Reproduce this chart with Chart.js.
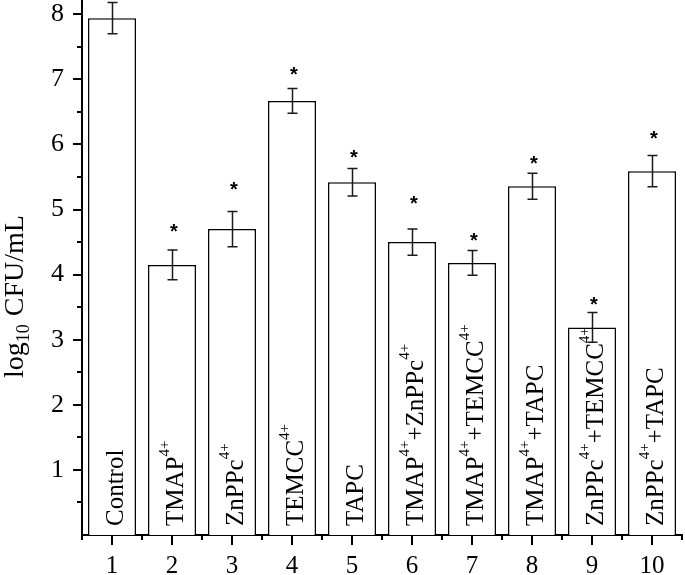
<!DOCTYPE html>
<html>
<head>
<meta charset="utf-8">
<script src="https://cdn.jsdelivr.net/npm/chart.js@4/dist/chart.umd.min.js"></script>
<style>
  html, body { margin: 0; padding: 0; background: #fff; }
  #wrap { width: 685px; height: 575px; }
</style>
</head>
<body>
<div id="wrap"><canvas id="cfu" width="685" height="575"></canvas></div>
<script>
const categories = ['1', '2', '3', '4', '5', '6', '7', '8', '9', '10'];
// {..} marks superscript text
const barLabels = ['Control', 'TMAP{4+}', 'ZnPPc{4+}', 'TEMCC{4+}', 'TAPC',
    'TMAP{4+}+ZnPPc{4+}', 'TMAP{4+}+TEMCC{4+}', 'TMAP{4+}+TAPC',
    'ZnPPc{4+}+TEMCC{4+}', 'ZnPPc{4+}+TAPC'];
const means = [7.94, 4.15, 4.70, 6.67, 5.42, 4.50, 4.18, 5.36, 3.19, 5.59];
const errors = [0.24, 0.23, 0.27, 0.19, 0.21, 0.20, 0.19, 0.20, 0.23, 0.24];
// level of the significance asterisk (null = none)
const starLevels = [null, 4.72, 5.36, 7.13, 5.85, 5.15, 4.58, 5.76, 3.59, 6.14];
const yTicks = [1, 2, 3, 4, 5, 6, 7, 8];
const yMinorTicks = [0.5, 1.5, 2.5, 3.5, 4.5, 5.5, 6.5, 7.5];

const serif = '"Liberation Serif", "Times New Roman", serif';

function parseLabel(str) {
    const parts = [];
    const re = /([^{]+)|\{([^}]*)\}/g;
    let m;
    while ((m = re.exec(str)) !== null) {
        if (m[1]) parts.push({ text: m[1], sup: false });
        else parts.push({ text: m[2], sup: true });
    }
    return parts;
}

const extras = {
    id: 'extras',
    afterDatasetsDraw(chart) {
        const ctx = chart.ctx;
        const xs = chart.scales.x, ys = chart.scales.y;
        const area = chart.chartArea;
        ctx.save();

        // minor ticks
        ctx.strokeStyle = '#000';
        ctx.lineWidth = 2;
        ctx.beginPath();
        for (let i = 0; i <= categories.length; i++) {
            const px = Math.round(xs.getPixelForValue(i - 0.5));
            ctx.moveTo(px, area.bottom);
            ctx.lineTo(px, area.bottom + 5);
        }
        yMinorTicks.forEach(v => {
            const py = Math.round(ys.getPixelForValue(v));
            ctx.moveTo(area.left - 5, py);
            ctx.lineTo(area.left, py);
        });
        ctx.stroke();

        // bar labels, rotated
        barLabels.forEach((lab, i) => {
            const cx = xs.getPixelForValue(i);
            ctx.save();
            ctx.translate(cx + 11, area.bottom - 9);
            ctx.rotate(-Math.PI / 2);
            ctx.fillStyle = '#000';
            ctx.textAlign = 'left';
            ctx.textBaseline = 'alphabetic';
            let x = 0;
            parseLabel(lab).forEach(p => {
                ctx.font = (p.sup ? '15px ' : '25px ') + serif;
                ctx.fillText(p.text, x, p.sup ? -14 : 0);
                x += ctx.measureText(p.text).width;
            });
            ctx.restore();
        });

        // error bars
        ctx.strokeStyle = '#1a1a1a';
        ctx.lineWidth = 1.5;
        means.forEach((m, i) => {
            const cx = Math.round(xs.getPixelForValue(i)) + 0.5;
            const top = ys.getPixelForValue(m + errors[i]);
            const bot = ys.getPixelForValue(m - errors[i]);
            ctx.beginPath();
            ctx.moveTo(cx, top); ctx.lineTo(cx, bot);
            ctx.moveTo(cx - 5, top); ctx.lineTo(cx + 5, top);
            ctx.moveTo(cx - 5, bot); ctx.lineTo(cx + 5, bot);
            ctx.stroke();
        });

        // asterisks
        ctx.fillStyle = '#000';
        ctx.font = 'bold 20px "Liberation Sans", Arial, sans-serif';
        ctx.textAlign = 'center';
        ctx.textBaseline = 'alphabetic';
        const sm = ctx.measureText('*');
        const dy = (sm.actualBoundingBoxAscent - sm.actualBoundingBoxDescent) / 2;
        starLevels.forEach((lv, i) => {
            if (lv === null) return;
            ctx.fillText('*', xs.getPixelForValue(i) + 2, ys.getPixelForValue(lv) + dy);
        });

        // y axis title with subscript
        ctx.save();
        ctx.translate(23, area.bottom - 157);
        ctx.rotate(-Math.PI / 2);
        ctx.textAlign = 'left';
        let tx = 0;
        [['log', 28, 0, 0], ['10', 18, 6, 8], ['CFU/mL', 28, 0, 0]].forEach(([t, s, off, gap]) => {
            ctx.font = s + 'px ' + serif;
            ctx.fillText(t, tx, off);
            tx += ctx.measureText(t).width + gap;
        });
        ctx.restore();

        ctx.restore();
    }
};

new Chart(document.getElementById('cfu'), {
    type: 'bar',
    data: {
        labels: categories,
        datasets: [{
            data: means,
            backgroundColor: '#ffffff',
            borderColor: '#000000',
            borderWidth: 1.5,
            barPercentage: 0.8,
            categoryPercentage: 1.0
        }]
    },
    options: {
        responsive: false,
        animation: false,
        devicePixelRatio: 1,
        layout: { padding: { top: 0, right: 3, bottom: 0, left: 0 } },
        plugins: {
            legend: { display: false },
            tooltip: { enabled: false }
        },
        scales: {
            x: {
                offset: true,
                grid: { offset: false, drawOnChartArea: false, drawTicks: true, tickLength: 10, color: '#000', lineWidth: 2 },
                border: { display: true, color: '#000', width: 2 },
                ticks: { color: '#000', font: { family: serif, size: 25 }, padding: 6, maxRotation: 0 },
                afterFit(s) { s.height = 40; s.paddingLeft = 0; s.paddingRight = 0; }
            },
            y: {
                min: 0,
                max: 8.22,
                ticks: { color: '#000', font: { family: serif, size: 26 }, padding: 9 },
                afterBuildTicks(s) { s.ticks = yTicks.map(v => ({ value: v })); },
                grid: { drawOnChartArea: false, drawTicks: true, tickLength: 9, color: '#000', lineWidth: 2 },
                border: { display: true, color: '#000', width: 2 },
                afterFit(s) { s.width = 82; s.paddingTop = 0; s.paddingBottom = 0; }
            }
        }
    },
    plugins: [extras]
});
</script>
</body>
</html>
